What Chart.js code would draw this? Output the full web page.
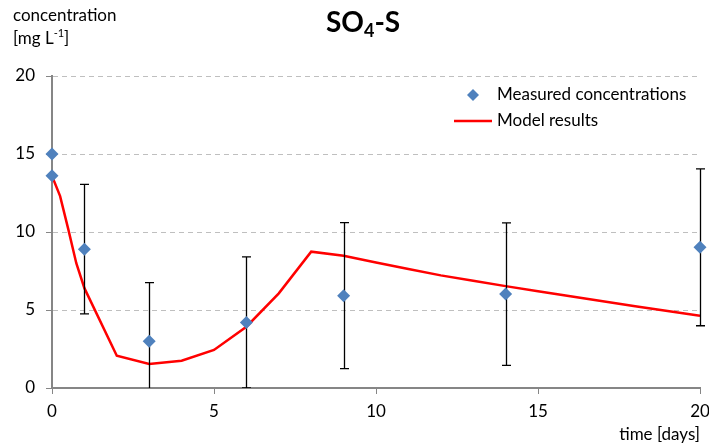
<!DOCTYPE html>
<html><head><meta charset="utf-8">
<script src="https://cdn.jsdelivr.net/npm/chart.js@4/dist/chart.umd.min.js"></script>
<style>html,body{margin:0;padding:0;background:#fff}#wrap{width:709px;height:445px;position:relative}</style>
</head><body><div id="wrap"><canvas id="c" width="709" height="445"></canvas></div>
<script>
// ---- data ----
const measuredDays = [0, 0, 1, 3, 6, 9, 14, 20];
const measuredConc = [15.0, 13.6, 8.9, 3.0, 4.2, 5.92, 6.02, 9.02];
const measuredErr  = [0, 0, 4.15, 3.75, 4.2, 4.68, 4.57, 5.03];
const modelDays = [0, 0.25, 0.5, 0.75, 1, 2, 3, 4, 5, 6, 7, 8, 9, 10, 11, 12, 13, 14, 15, 16, 17, 18, 19, 20];
const modelConc = [13.6, 12.3, 10.2, 8.0, 6.4, 2.07, 1.54, 1.75, 2.44, 3.93, 6.07, 8.74, 8.48, 8.05, 7.63, 7.22, 6.87, 6.53, 6.2, 5.88, 5.56, 5.24, 4.93, 4.63];
const xTicks = [0, 5, 10, 15, 20];
const yTicks = [0, 5, 10, 15, 20];
const seriesNames = ['Measured concentrations', 'Model results'];

const FONT = 'Lato, "Open Sans", sans-serif';
const AXIS = '#868686';

const errorBars = {
  id: 'errorBars',
  beforeDatasetDraw(chart, args) {
    if (args.index !== 0) return;
    const ctx = chart.ctx, xs = chart.scales.x, ys = chart.scales.y, a = chart.chartArea;
    ctx.save();
    ctx.beginPath(); ctx.rect(a.left, a.top - 10, a.right - a.left + 10, a.bottom - a.top + 10); ctx.clip();
    ctx.strokeStyle = '#000'; ctx.lineWidth = 1.3;
    measuredDays.forEach((d, i) => {
      const e = measuredErr[i]; if (!e) return;
      const x = Math.round(xs.getPixelForValue(d)) + 0.5;
      const yt = ys.getPixelForValue(measuredConc[i] + e);
      const yb = ys.getPixelForValue(measuredConc[i] - e);
      ctx.beginPath();
      ctx.moveTo(x, yt); ctx.lineTo(x, yb);
      ctx.moveTo(x - 4.5, yt); ctx.lineTo(x + 4.5, yt);
      ctx.moveTo(x - 4.5, yb); ctx.lineTo(x + 4.5, yb);
      ctx.stroke();
    });
    ctx.restore();
  }
};

const texts = {
  id: 'texts',
  afterDraw(chart) {
    const ctx = chart.ctx;
    ctx.save();
    ctx.fillStyle = '#000';
    ctx.textBaseline = 'alphabetic';
    // title SO4-S
    let x = 326;
    ctx.font = 'bold 28px ' + FONT;
    ctx.fillText('SO', x, 32); x += ctx.measureText('SO').width;
    ctx.font = 'bold 18px ' + FONT;
    ctx.fillText('4', x, 37); x += ctx.measureText('4').width;
    ctx.font = 'bold 28px ' + FONT;
    ctx.fillText('-S', x, 32);
    // y title
    ctx.font = '17px ' + FONT;
    ctx.fillText('concentration', 13, 21);
    x = 13;
    ctx.fillText('[mg L', x, 44); x += ctx.measureText('[mg L').width;
    ctx.font = '11px ' + FONT;
    ctx.fillText('-1', x, 37); x += ctx.measureText('-1').width;
    ctx.font = '17px ' + FONT;
    ctx.fillText(']', x, 44);
    // x title
    ctx.textAlign = 'right';
    ctx.fillText('time [days]', 700, 440);
    // legend
    ctx.textAlign = 'left';
    const ds0 = chart.data.datasets[0], ds1 = chart.data.datasets[1];
    ctx.fillStyle = ds0.backgroundColor;
    ctx.beginPath();
    ctx.moveTo(473, 89); ctx.lineTo(479, 95); ctx.lineTo(473, 101); ctx.lineTo(467, 95); ctx.closePath(); ctx.fill();
    ctx.strokeStyle = ds1.borderColor; ctx.lineWidth = ds1.borderWidth;
    ctx.beginPath(); ctx.moveTo(454, 121); ctx.lineTo(492, 121); ctx.stroke();
    ctx.fillStyle = '#000';
    ctx.fillText(seriesNames[0], 497, 100);
    ctx.fillText(seriesNames[1], 497, 126);
    ctx.restore();
  }
};

new Chart(document.getElementById('c'), {
  type: 'line',
  data: {
    datasets: [
      {
        label: seriesNames[0],
        data: measuredDays.map((d, i) => ({x: d, y: measuredConc[i]})),
        showLine: false,
        clip: false,
        pointStyle: 'rectRot',
        pointRadius: 6.5,
        pointBorderWidth: 0,
        backgroundColor: '#4F81BD',
        borderColor: '#4F81BD'
      },
      {
        label: seriesNames[1],
        data: modelDays.map((d, i) => ({x: d, y: modelConc[i]})),
        borderColor: '#FF0000',
        borderWidth: 2.5,
        pointRadius: 0,
        tension: 0,
        fill: false
      }
    ]
  },
  plugins: [errorBars, texts],
  options: {
    responsive: false,
    animation: false,
    devicePixelRatio: 1,
    layout: {padding: {top: 76, right: 9, left: 0, bottom: 0}},
    plugins: {legend: {display: false}, title: {display: false}, tooltip: {enabled: false}},
    scales: {
      x: {
        type: 'linear', min: 0, max: 20,
        afterBuildTicks(s) { s.ticks = xTicks.map(v => ({value: v})); },
        afterFit(s) { s.height = 57; s.paddingLeft = 0; s.paddingRight = 0; },
        ticks: {font: {family: FONT, size: 17}, color: '#000', padding: 7, maxRotation: 0},
        grid: {drawOnChartArea: false, tickLength: 6, tickColor: AXIS, tickWidth: 1},
        border: {color: AXIS, width: 2}
      },
      y: {
        type: 'linear', min: 0, max: 20,
        afterBuildTicks(s) { s.ticks = yTicks.map(v => ({value: v})); },
        afterFit(s) { s.width = 52; s.paddingTop = 0; s.paddingBottom = 0; },
        ticks: {font: {family: FONT, size: 17}, color: '#000', padding: 11},
        grid: {color: '#BFBFBF', lineWidth: 1, tickLength: 6, tickColor: AXIS, tickWidth: 1, tickBorderDash: []},
        border: {color: AXIS, width: 2, dash: [5, 4]}
      }
    }
  }
});
</script></body></html>
